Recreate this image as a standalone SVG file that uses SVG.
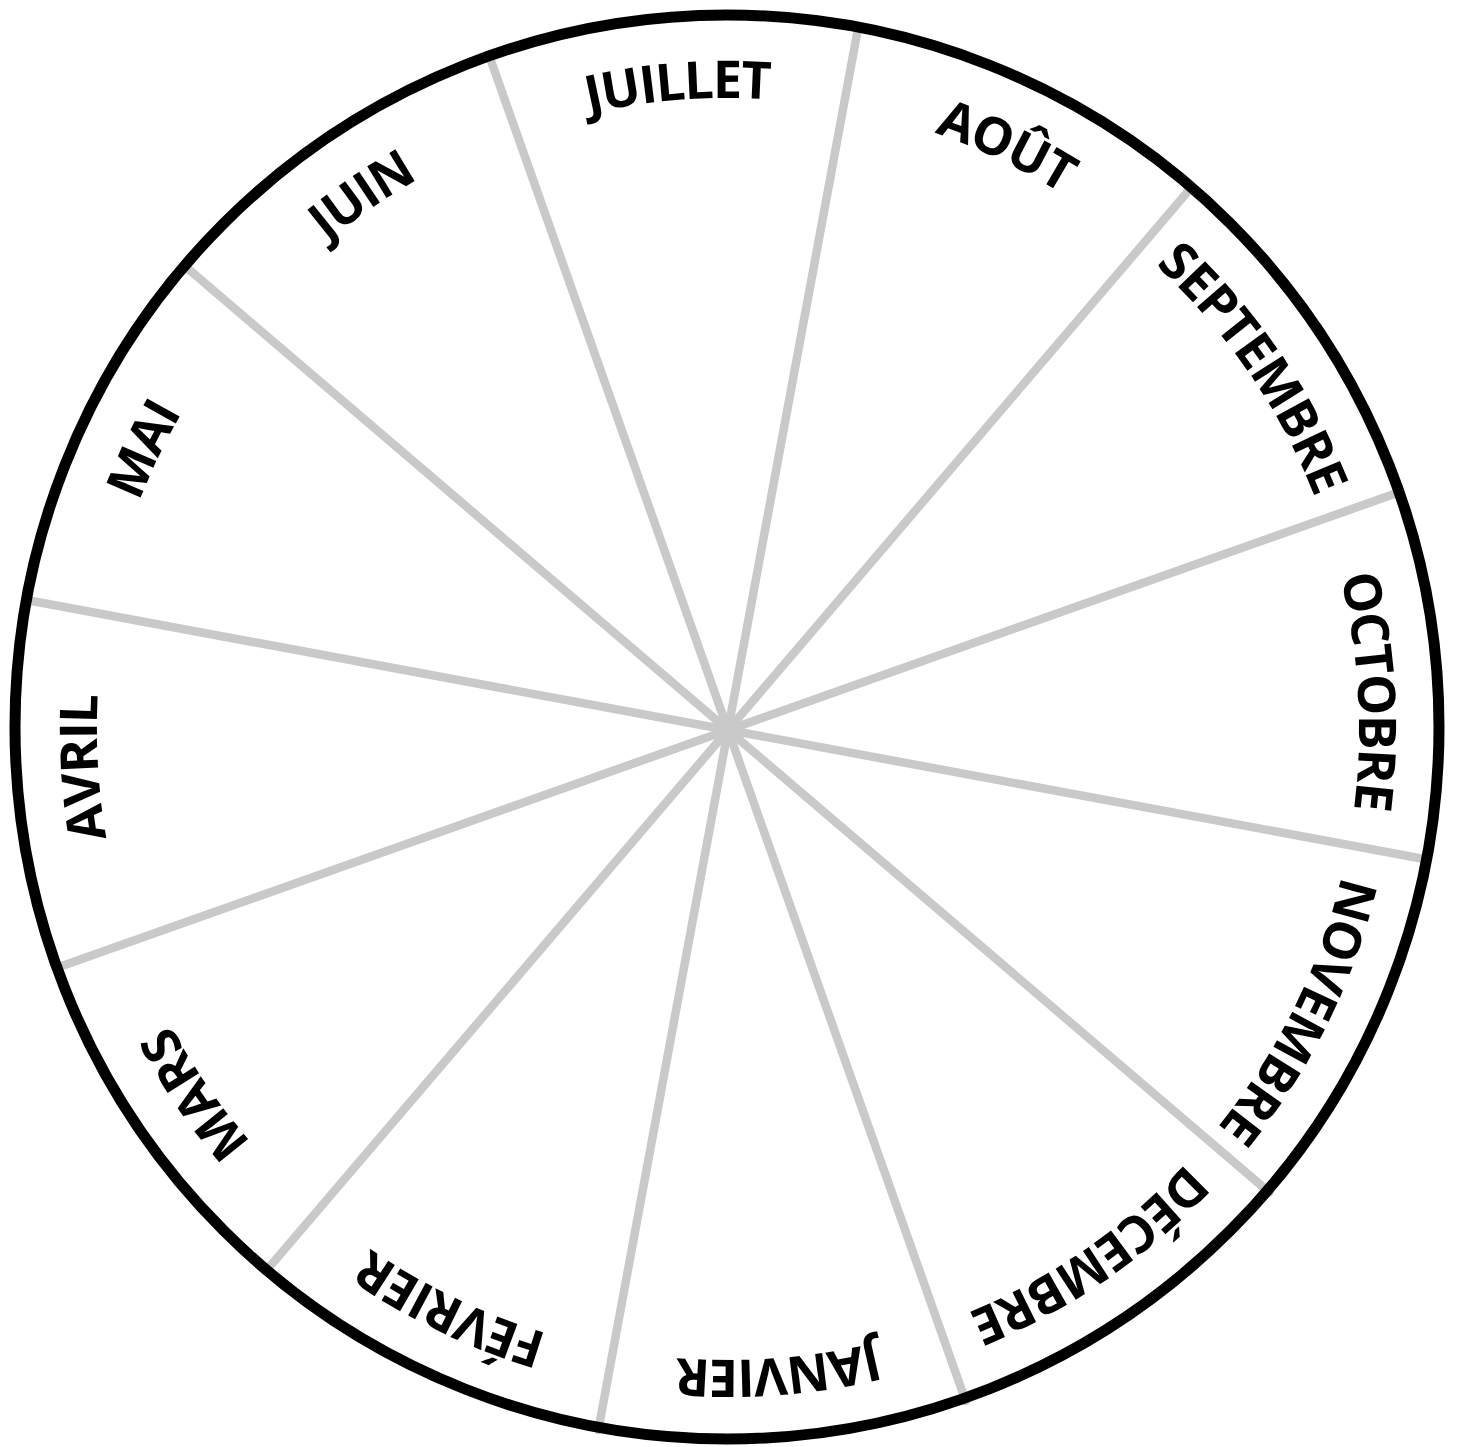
<svg xmlns="http://www.w3.org/2000/svg" xmlns:xlink="http://www.w3.org/1999/xlink" width="1459" height="1447" viewBox="0 0 1459 1447">
  <style>
    .spoke { stroke: #c9c9c9; stroke-width: 8.5; stroke-linecap: round; fill: none; }
    .rim { fill: none; stroke: #000; stroke-width: 11; }
    .lbl { font-family: "Open Sans", "Liberation Sans", sans-serif; font-weight: 700; font-size: 52px; letter-spacing: -1.5px; fill: #000; text-anchor: middle; }
  </style>
  <defs>
    <path id="ring" d="M 728,98 A 631 631 0 1 1 728,1360 A 631 631 0 1 1 728,98 A 631 631 0 1 1 728,1360 A 631 631 0 1 1 728,98"/>
  </defs>
  <rect width="1459" height="1447" fill="#fff"/>
  <g id="connectors">
    <line class="spoke" x1="728" y1="730" x2="857.7" y2="29.9"/>
    <line class="spoke" x1="728" y1="730" x2="1190.4" y2="188.6"/>
    <line class="spoke" x1="728" y1="730" x2="1399.1" y2="492.3"/>
    <line class="spoke" x1="728" y1="730" x2="1428.1" y2="859.7"/>
    <line class="spoke" x1="728" y1="730" x2="1269.4" y2="1192.4"/>
    <line class="spoke" x1="728" y1="730" x2="965.7" y2="1401.1"/>
    <line class="spoke" x1="728" y1="730" x2="598.3" y2="1430.1"/>
    <line class="spoke" x1="728" y1="730" x2="265.6" y2="1271.4"/>
    <line class="spoke" x1="728" y1="730" x2="56.9" y2="967.7"/>
    <line class="spoke" x1="728" y1="730" x2="27.9" y2="600.3"/>
    <line class="spoke" x1="728" y1="730" x2="186.6" y2="267.6"/>
    <line class="spoke" x1="728" y1="730" x2="490.3" y2="58.9"/>
  </g>
  <g id="rim">
    <circle class="rim" cx="727" cy="727" r="712"/>
  </g>
  <g id="juillet"><text class="lbl"><textPath xlink:href="#ring" href="#ring" startOffset="3914.8">JUILLET</textPath></text></g>
  <g id="aout"><text class="lbl"><textPath xlink:href="#ring" href="#ring" startOffset="280.8">AOÛT</textPath></text></g>
  <g id="septembre"><text class="lbl"><textPath xlink:href="#ring" href="#ring" startOffset="611.2">SEPTEMBRE</textPath></text></g>
  <g id="octobre"><text class="lbl"><textPath xlink:href="#ring" href="#ring" startOffset="953.7">OCTOBRE</textPath></text></g>
  <g id="novembre"><text class="lbl"><textPath xlink:href="#ring" href="#ring" startOffset="1280.0">NOVEMBRE</textPath></text></g>
  <g id="decembre"><text class="lbl"><textPath xlink:href="#ring" href="#ring" startOffset="1602.3">DÉCEMBRE</textPath></text></g>
  <g id="janvier"><text class="lbl"><textPath xlink:href="#ring" href="#ring" startOffset="1932.7">JANVIER</textPath></text></g>
  <g id="fevrier"><text class="lbl"><textPath xlink:href="#ring" href="#ring" startOffset="2263.1">FÉVRIER</textPath></text></g>
  <g id="mars"><text class="lbl"><textPath xlink:href="#ring" href="#ring" startOffset="2593.5">MARS</textPath></text></g>
  <g id="avril"><text class="lbl"><textPath xlink:href="#ring" href="#ring" startOffset="2934.9">AVRIL</textPath></text></g>
  <g id="mai"><text class="lbl"><textPath xlink:href="#ring" href="#ring" startOffset="3254.3">MAI</textPath></text></g>
  <g id="juin"><text class="lbl"><textPath xlink:href="#ring" href="#ring" startOffset="3584.7">JUIN</textPath></text></g>
</svg>
